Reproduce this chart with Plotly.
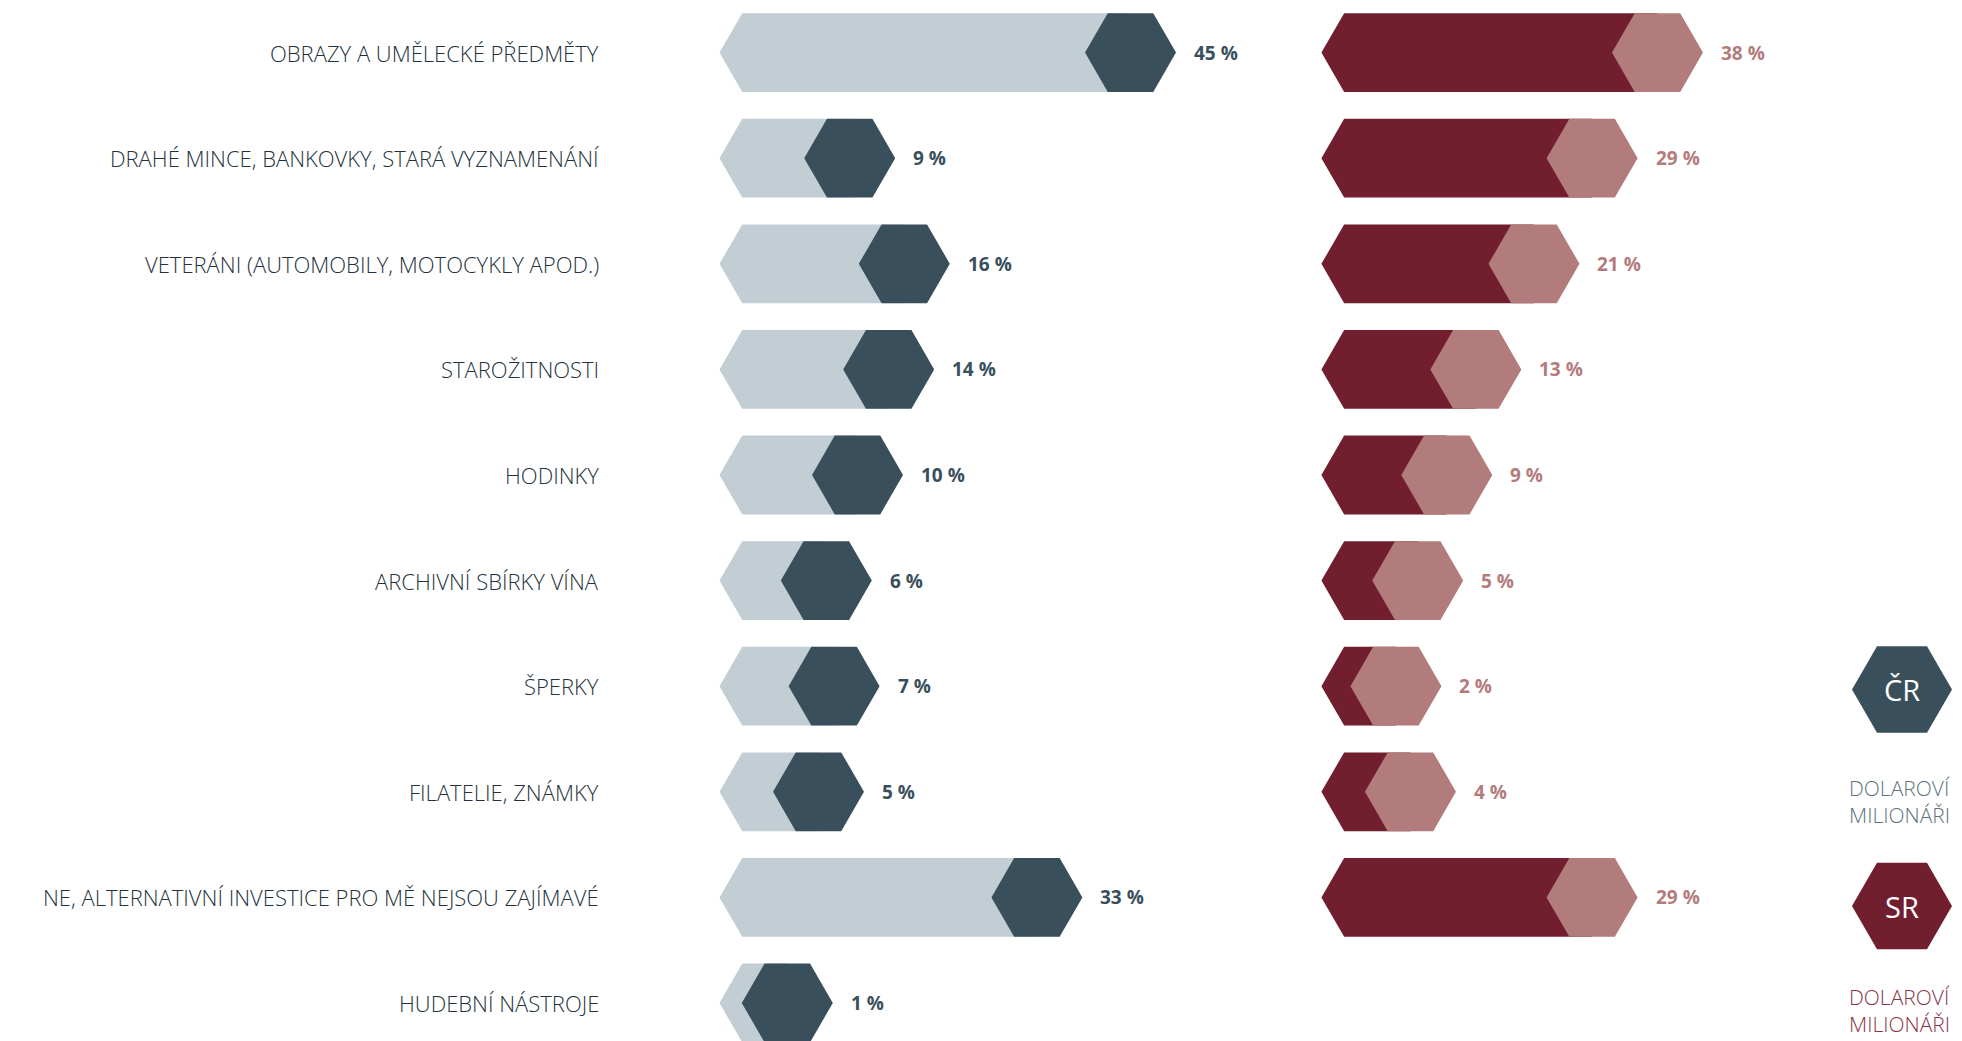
import plotly.graph_objects as go

# ---------------- data ----------------
categories = [
    "OBRAZY A UMĚLECKÉ PŘEDMĚTY",
    "DRAHÉ MINCE, BANKOVKY, STARÁ VYZNAMENÁNÍ",
    "VETERÁNI (AUTOMOBILY, MOTOCYKLY APOD.)",
    "STAROŽITNOSTI",
    "HODINKY",
    "ARCHIVNÍ SBÍRKY VÍNA",
    "ŠPERKY",
    "FILATELIE, ZNÁMKY",
    "NE, ALTERNATIVNÍ INVESTICE PRO MĚ NEJSOU ZAJÍMAVÉ",
    "HUDEBNÍ NÁSTROJE",
]
cr_values = [45, 9, 16, 14, 10, 6, 7, 5, 33, 1]
sr_values = [38, 29, 21, 13, 9, 5, 2, 4, 29, None]
legend_labels = ["ČR", "SR"]
legend_text = "DOLAROVÍ<br>MILIONÁŘI"

# ---------------- style ----------------
W, H = 1962, 1041
CR_LIGHT, CR_DARK = "#c2cdd4", "#3a4f5c"
SR_DARK, SR_LIGHT = "#711f2f", "#b37c7c"
LABEL_COLOR = "#22313b"
FONT = "Open Sans, Lato, sans-serif"

# pixel geometry used to set axis ranges
ROW0_PX, ROW_STEP_PX = 52.6, 105.6
L_TIP_PX, L_SCALE = 719.5, 7.8      # left panel: bar start, px per %
R_TIP_PX, R_SCALE = 1321.4, 7.265   # right panel
HEX_R_PX = 45.5                     # center-to-tip radius
HEX_OFF_PX = 60.0                   # hex centre distance from bar tip at 0 %
HEX_HALF_H_PX = 39.4
LABEL_RIGHT_PX = 600.5

xl_range = [-L_TIP_PX / L_SCALE, (W - L_TIP_PX) / L_SCALE]
xr_range = [-R_TIP_PX / R_SCALE, (W - R_TIP_PX) / R_SCALE]
y_range = [(H - ROW0_PX) / ROW_STEP_PX, -ROW0_PX / ROW_STEP_PX]
hh = HEX_HALF_H_PX / ROW_STEP_PX


def build(values, scale):
    R = HEX_R_PX / scale
    off = HEX_OFF_PX / scale
    bx, by, hx, hy, ends = [], [], [], [], []
    for i, v in enumerate(values):
        if v is None:
            ends.append(None)
            continue
        cx = v + off
        t = R / 2
        bx += [0, t, cx, cx, t, 0, None]
        by += [i, i - hh, i - hh, i + hh, i + hh, i, None]
        hx += [cx - R, cx - R / 2, cx + R / 2, cx + R, cx + R / 2, cx - R / 2, cx - R, None]
        hy += [i, i - hh, i - hh, i, i + hh, i + hh, i, None]
        ends.append(cx + R)
    return bx, by, hx, hy, ends


lbx, lby, lhx, lhy, lends = build(cr_values, L_SCALE)
rbx, rby, rhx, rhy, rends = build(sr_values, R_SCALE)

fig = go.Figure()
fig.add_trace(go.Scatter(x=lbx, y=lby, fill="toself", fillcolor=CR_LIGHT, mode="lines",
                         line=dict(width=0, color=CR_LIGHT), hoverinfo="skip", xaxis="x", yaxis="y"))
fig.add_trace(go.Scatter(x=lhx, y=lhy, fill="toself", fillcolor=CR_DARK, mode="lines",
                         line=dict(width=0, color=CR_DARK), hoverinfo="skip", xaxis="x", yaxis="y"))
fig.add_trace(go.Scatter(x=rbx, y=rby, fill="toself", fillcolor=SR_DARK, mode="lines",
                         line=dict(width=0, color=SR_DARK), hoverinfo="skip", xaxis="x2", yaxis="y"))
fig.add_trace(go.Scatter(x=rhx, y=rhy, fill="toself", fillcolor=SR_LIGHT, mode="lines",
                         line=dict(width=0, color=SR_LIGHT), hoverinfo="skip", xaxis="x2", yaxis="y"))

annotations = []
GAP_PX = 16
for i, cat in enumerate(categories):
    annotations.append(dict(x=(LABEL_RIGHT_PX - L_TIP_PX) / L_SCALE, y=i, xref="x", yref="y",
                            text=cat, showarrow=False, xanchor="right", yanchor="middle",
                            font=dict(family=FONT, size=22, color=LABEL_COLOR, weight=300)))
    if cr_values[i] is not None:
        annotations.append(dict(x=lends[i] + GAP_PX / L_SCALE, y=i, xref="x", yref="y",
                                text=f"{cr_values[i]} %", showarrow=False, xanchor="left",
                                yanchor="middle",
                                font=dict(family=FONT, size=19, color=CR_DARK, weight=700)))
    if sr_values[i] is not None:
        annotations.append(dict(x=rends[i] + GAP_PX / R_SCALE, y=i, xref="x2", yref="y",
                                text=f"{sr_values[i]} %", showarrow=False, xanchor="left",
                                yanchor="middle",
                                font=dict(family=FONT, size=19, color=SR_LIGHT, weight=700)))

# legend (paper coordinates)
shapes = []
leg = [(legend_labels[0], CR_DARK, "#607480", 689.5, 801.0),
       (legend_labels[1], SR_DARK, "#8b3648", 906.0, 1010.0)]
for lab, col, tcol, cy, ty in leg:
    cx, R, h2 = 1902.0, 50.0, 43.3
    pts = [(cx - R, cy), (cx - R / 2, cy - h2), (cx + R / 2, cy - h2), (cx + R, cy),
           (cx + R / 2, cy + h2), (cx - R / 2, cy + h2)]
    path = "M " + " L ".join(f"{px / W:.5f},{1 - py / H:.5f}" for px, py in pts) + " Z"
    shapes.append(dict(type="path", path=path, xref="paper", yref="paper",
                       fillcolor=col, line=dict(width=0)))
    annotations.append(dict(x=cx / W, y=1 - cy / H, xref="paper", yref="paper", text=lab,
                            showarrow=False, xanchor="center", yanchor="middle",
                            font=dict(family=FONT, size=29, color="white", weight=400)))
    annotations.append(dict(x=1847 / W, y=1 - ty / H, xref="paper", yref="paper",
                            text=legend_text, showarrow=False, xanchor="left", yanchor="middle",
                            align="left",
                            font=dict(family=FONT, size=21, color=tcol, weight=300)))

axis_common = dict(showgrid=False, zeroline=False, showticklabels=False, showline=False,
                   ticks="", fixedrange=True)
fig.update_layout(
    width=W, height=H, margin=dict(l=0, r=0, t=0, b=0),
    paper_bgcolor="white", plot_bgcolor="white", showlegend=False,
    xaxis=dict(range=xl_range, domain=[0, 1], **axis_common),
    xaxis2=dict(range=xr_range, domain=[0, 1], overlaying="x", anchor="y", **axis_common),
    yaxis=dict(range=y_range, domain=[0, 1], **axis_common),
    annotations=annotations, shapes=shapes,
)

fig.write_html("out.html", config={"displayModeBar": False},
               post_script="document.body.style.margin='0';document.body.style.overflow='hidden';")
